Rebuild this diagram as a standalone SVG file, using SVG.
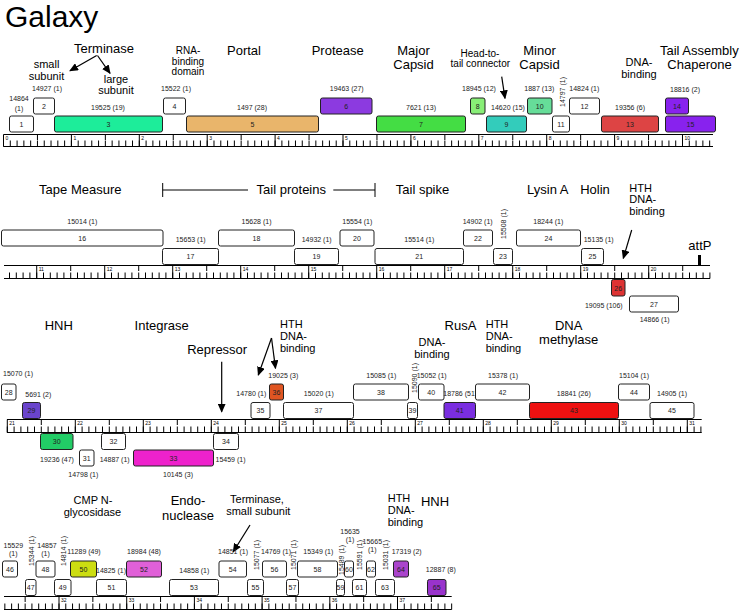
<svg xmlns="http://www.w3.org/2000/svg" width="741" height="612" viewBox="0 0 741 612">
<defs>
<style>
text{font-family:"Liberation Sans",Arial,sans-serif;fill:#000}
.t13{font-size:13px}
.t11{font-size:11px}
.t10{font-size:10px}
.c{text-anchor:middle}
.n{font-size:7px;fill:#222;text-anchor:middle}
.s{text-anchor:start}
.kb{font-size:5px;fill:#3a9a3a}
.b{stroke:#222;stroke-width:1;fill:#fff}
.rl{stroke:#000;stroke-width:1;fill:none}
.tk{stroke:#000;fill:none}
.ar{stroke:#000;stroke-width:1.2;fill:none;marker-end:url(#ah)}
</style>
<marker id="ah" markerUnits="userSpaceOnUse" markerWidth="9" markerHeight="8" refX="8" refY="4" orient="auto">
<path d="M0,0 L9,4 L0,8 z" fill="#000"/>
</marker>
</defs>
<rect width="741" height="612" fill="#fff"/>
<text x="5" y="27" style="font-size:30px">Galaxy</text>

<!-- rulers -->
<g id="rulers">
<path class="rl" d="M3.5 134.5H713M3.5 146.5H713"/>
<line class="tk" x1="3" y1="140.5" x2="714" y2="140.5" stroke-width="12" stroke-dasharray="1 66.9"/>
<line class="tk" x1="36.95" y1="137.25" x2="714" y2="137.25" stroke-width="5.5" stroke-dasharray="1 66.9"/>
<line class="tk" x1="3" y1="143.5" x2="714" y2="143.5" stroke-width="6" stroke-dasharray="1 5.79"/>
<g class="kb"><text x="5.5" y="139.5">0</text><text x="73.4" y="139.5">1</text><text x="141.3" y="139.5">2</text><text x="209.2" y="139.5">3</text><text x="277.1" y="139.5">4</text><text x="345" y="139.5">5</text><text x="412.9" y="139.5">6</text><text x="480.8" y="139.5">7</text><text x="548.7" y="139.5">8</text><text x="616.6" y="139.5">9</text><text x="684.5" y="139.5">10</text></g>

<path class="rl" d="M4 265.5H710M4 278.5H710"/>
<line class="tk" x1="36.2" y1="272" x2="711" y2="272" stroke-width="13" stroke-dasharray="1 67"/>
<line class="tk" x1="70.2" y1="268.25" x2="711" y2="268.25" stroke-width="5.5" stroke-dasharray="1 67"/>
<line class="tk" x1="9" y1="275.5" x2="711" y2="275.5" stroke-width="6" stroke-dasharray="1 5.8"/>
<g class="kb"><text x="38.7" y="270.5">11</text><text x="106.7" y="270.5">12</text><text x="174.7" y="270.5">13</text><text x="242.7" y="270.5">14</text><text x="310.7" y="270.5">15</text><text x="378.7" y="270.5">16</text><text x="446.7" y="270.5">17</text><text x="514.7" y="270.5">18</text><text x="582.7" y="270.5">19</text><text x="650.7" y="270.5">20</text></g>

<path class="rl" d="M7 419.5H701.7M7 432.5H701.7"/>
<line class="tk" x1="6.8" y1="426" x2="702.5" y2="426" stroke-width="13" stroke-dasharray="1 67"/>
<line class="tk" x1="40.8" y1="422.25" x2="702.5" y2="422.25" stroke-width="5.5" stroke-dasharray="1 67"/>
<line class="tk" x1="6.8" y1="429.5" x2="702.5" y2="429.5" stroke-width="6" stroke-dasharray="1 5.8"/>
<g class="kb"><text x="9.3" y="424.5">21</text><text x="77.3" y="424.5">22</text><text x="145.3" y="424.5">23</text><text x="213.3" y="424.5">24</text><text x="281.3" y="424.5">25</text><text x="349.3" y="424.5">26</text><text x="417.3" y="424.5">27</text><text x="485.3" y="424.5">28</text><text x="553.3" y="424.5">29</text><text x="621.3" y="424.5">30</text><text x="689.3" y="424.5">31</text></g>

<path class="rl" d="M4 596.5H451.7M4 609.5H451.7"/>
<line class="tk" x1="58.5" y1="603" x2="452.5" y2="603" stroke-width="13" stroke-dasharray="1 66.7"/>
<line class="tk" x1="24.65" y1="599.25" x2="452.5" y2="599.25" stroke-width="5.5" stroke-dasharray="1 66.7"/>
<line class="tk" x1="4.34" y1="606.5" x2="452.5" y2="606.5" stroke-width="6" stroke-dasharray="1 5.77"/>
<g class="kb"><text x="61" y="602">32</text><text x="128.7" y="602">33</text><text x="196.4" y="602">34</text><text x="264.1" y="602">35</text><text x="331.8" y="602">36</text><text x="399.5" y="602">37</text></g>
</g>

<!-- annotations -->
<g id="annotations">
<text class="t13 c" x="104" y="53">Terminase</text>
<text class="t11 c" x="46.5" y="68">small</text>
<text class="t11 c" x="46.5" y="80">subunit</text>
<text class="t11 c" x="116" y="82.5">large</text>
<text class="t11 c" x="116" y="94">subunit</text>
<text class="t10 c" x="188" y="54">RNA-</text>
<text class="t10 c" x="188" y="64.5">binding</text>
<text class="t10 c" x="188" y="75">domain</text>
<text class="t13 c" x="244" y="54.5">Portal</text>
<text class="t13 c" x="337.7" y="55">Protease</text>
<text class="t13 c" x="413.5" y="55">Major</text>
<text class="t13 c" x="413.5" y="68.5">Capsid</text>
<text class="t10 c" x="480" y="56.5">Head-to-</text>
<text class="t10 c" x="480.3" y="66.7">tail connector</text>
<text class="t13 c" x="539.5" y="55">Minor</text>
<text class="t13 c" x="539.5" y="68.5">Capsid</text>
<text class="t11 c" x="639" y="66">DNA-</text>
<text class="t11 c" x="639" y="78.3">binding</text>
<text class="t13 c" x="699.3" y="55">Tail Assembly</text>
<text class="t13 c" x="699.5" y="69">Chaperone</text>

<text class="t13 c" x="80.3" y="194">Tape Measure</text>
<path class="rl" d="M162.7 183V197M162.7 190H248M333.3 190H375M375 183V197"/>
<text class="t13 c" x="291.3" y="194">Tail proteins</text>
<text class="t13 c" x="422.5" y="194">Tail spike</text>
<text class="t13 c" x="547.8" y="194">Lysin A</text>
<text class="t13 c" x="595" y="194">Holin</text>
<text class="t11" x="629.3" y="191.7">HTH</text>
<text class="t11" x="629.3" y="203.3">DNA-</text>
<text class="t11" x="629.3" y="215">binding</text>
<text class="t13" x="688.3" y="250">attP</text>
<rect x="698" y="255" width="3" height="10.5" fill="#000"/>

<text class="t13 c" x="58.8" y="330">HNH</text>
<text class="t13 c" x="161.7" y="330">Integrase</text>
<text class="t13 c" x="217.2" y="354">Repressor</text>
<text class="t11" x="280" y="327.5">HTH</text>
<text class="t11" x="280" y="339.5">DNA-</text>
<text class="t11" x="280" y="351.5">binding</text>
<text class="t11 c" x="432" y="345.7">DNA-</text>
<text class="t11 c" x="432" y="357.7">binding</text>
<text class="t13 c" x="460.5" y="330">RusA</text>
<text class="t11" x="485.7" y="328">HTH</text>
<text class="t11" x="485.7" y="340">DNA-</text>
<text class="t11" x="485.7" y="352">binding</text>
<text class="t13 c" x="568.7" y="330">DNA</text>
<text class="t13 c" x="568.7" y="344.3">methylase</text>

<text class="t11 c" x="93" y="504">CMP N-</text>
<text class="t11 c" x="92.5" y="515.7">glycosidase</text>
<text class="t13 c" x="188" y="505.3">Endo-</text>
<text class="t13 c" x="188" y="519.8">nuclease</text>
<text class="t11 c" x="257" y="503.3">Terminase,</text>
<text class="t11 c" x="258.3" y="515">small subunit</text>
<text class="t11" x="387.7" y="502.3">HTH</text>
<text class="t11" x="387.7" y="513.8">DNA-</text>
<text class="t11" x="387.7" y="525.5">binding</text>
<text class="t13 c" x="435" y="506">HNH</text>
</g>

<!-- connectors -->
<g id="connectors">
<line class="ar" x1="96.7" y1="55.5" x2="70" y2="70.7"/>
<line class="ar" x1="97.5" y1="55.5" x2="110" y2="73.3"/>
<line class="ar" x1="501.7" y1="76.7" x2="505" y2="98.3"/>
<line class="ar" x1="631.7" y1="230" x2="623.3" y2="258.3"/>
<line class="ar" x1="221.7" y1="361.7" x2="221.7" y2="411.7"/>
<line class="ar" x1="271.5" y1="338" x2="258.3" y2="375"/>
<line class="ar" x1="271.5" y1="338" x2="275.5" y2="368.3"/>
<line class="ar" x1="250" y1="525" x2="233.3" y2="551.7"/>
</g>

<!-- row 1 genes -->
<g id="gene1"><rect class="b" x="9.5" y="116" width="24" height="16" rx="2"/><text class="n" x="21.5" y="126.5">1</text><text class="n" x="19" y="101">14864</text><text class="n" x="19" y="110.5">(1)</text></g>
<g id="gene2"><rect class="b" x="33.5" y="98" width="21" height="16" rx="2"/><text class="n" x="44" y="108.5">2</text><text class="n" x="47" y="91">14927 (1)</text></g>
<g id="gene3"><rect class="b" x="54.5" y="116" width="108" height="16" rx="2" style="fill:#1ded9a"/><text class="n" x="108.5" y="126.5">3</text><text class="n" x="108" y="110">19525 (19)</text></g>
<g id="gene4"><rect class="b" x="163.5" y="98" width="22" height="16" rx="2"/><text class="n" x="174.5" y="108.5">4</text><text class="n" x="176" y="91">15522 (1)</text></g>
<g id="gene5"><rect class="b" x="186.5" y="116" width="132" height="16" rx="2" style="fill:#e9b56b"/><text class="n" x="252.5" y="126.5">5</text><text class="n" x="252" y="110">1497 (28)</text></g>
<g id="gene6"><rect class="b" x="320.5" y="98" width="51.5" height="16" rx="2" style="fill:#8c3ae0"/><text class="n" x="346.25" y="108.5">6</text><text class="n" x="346.7" y="91">19463 (27)</text></g>
<g id="gene7"><rect class="b" x="376.5" y="116" width="89" height="16" rx="2" style="fill:#44dd44"/><text class="n" x="421" y="126.5">7</text><text class="n" x="421" y="110">7621 (13)</text></g>
<g id="gene8"><rect class="b" x="470.5" y="98" width="14.5" height="16" rx="2" style="fill:#88ee77"/><text class="n" x="477.75" y="108.5">8</text><text class="n" x="479" y="91">18945 (12)</text></g>
<g id="gene9"><rect class="b" x="486.5" y="116" width="40" height="16" rx="2" style="fill:#33ccbb"/><text class="n" x="506.5" y="126.5">9</text><text class="n" x="508" y="110">14620 (15)</text></g>
<g id="gene10"><rect class="b" x="527.5" y="98" width="24.5" height="16" rx="2" style="fill:#66dd99"/><text class="n" x="539.75" y="108.5">10</text><text class="n" x="539.3" y="91">1887 (13)</text></g>
<g id="gene11"><rect class="b" x="552.5" y="116" width="17" height="16" rx="2"/><text class="n" x="561" y="126.5">11</text><text class="n" transform="translate(564.5,92) rotate(-90)">14797 (1)</text></g>
<g id="gene12"><rect class="b" x="569.5" y="98" width="30" height="16" rx="2"/><text class="n" x="584.5" y="108.5">12</text><text class="n" x="584.3" y="91">14824 (1)</text></g>
<g id="gene13"><rect class="b" x="601.5" y="116" width="57" height="16" rx="2" style="fill:#dd4444"/><text class="n" x="630" y="126.5">13</text><text class="n" x="630" y="110">19356 (6)</text></g>
<g id="gene14"><rect class="b" x="665.5" y="98" width="23" height="16" rx="2" style="fill:#8822ee"/><text class="n" x="677" y="108.5">14</text><text class="n" x="685" y="92">18816 (2)</text></g>
<g id="gene15"><rect class="b" x="665.5" y="116" width="50" height="16" rx="2" style="fill:#8822ee"/><text class="n" x="690.5" y="126.5">15</text></g>

<!-- row 2 genes -->
<g id="gene16"><rect class="b" x="1.5" y="230" width="161.5" height="16" rx="2"/><text class="n" x="82.25" y="240.5">16</text><text class="n" x="82.3" y="223.5">15014 (1)</text></g>
<g id="gene17"><rect class="b" x="162.5" y="248.5" width="56" height="16" rx="2"/><text class="n" x="190.5" y="259">17</text><text class="n" x="190.7" y="242">15653 (1)</text></g>
<g id="gene18"><rect class="b" x="218.5" y="230" width="76" height="16" rx="2"/><text class="n" x="256.5" y="240.5">18</text><text class="n" x="256.5" y="223.5">15628 (1)</text></g>
<g id="gene19"><rect class="b" x="294.5" y="248.5" width="44" height="16" rx="2"/><text class="n" x="316.5" y="259">19</text><text class="n" x="316.7" y="242">14932 (1)</text></g>
<g id="gene20"><rect class="b" x="340" y="230" width="34" height="16" rx="2"/><text class="n" x="357" y="240.5">20</text><text class="n" x="357.3" y="223.5">15554 (1)</text></g>
<g id="gene21"><rect class="b" x="375" y="248.5" width="88.5" height="16" rx="2"/><text class="n" x="419.25" y="259">21</text><text class="n" x="419.3" y="242">15514 (1)</text></g>
<g id="gene22"><rect class="b" x="463.5" y="230" width="29" height="16" rx="2"/><text class="n" x="478" y="240.5">22</text><text class="n" x="477.7" y="223.5">14902 (1)</text></g>
<g id="gene23"><rect class="b" x="493.5" y="248.5" width="19" height="16" rx="2"/><text class="n" x="503" y="259">23</text><text class="n" transform="translate(506,224) rotate(-90)">15508 (1)</text></g>
<g id="gene24"><rect class="b" x="516.5" y="230" width="64" height="16" rx="2"/><text class="n" x="548.5" y="240.5">24</text><text class="n" x="548.3" y="223.5">18244 (1)</text></g>
<g id="gene25"><rect class="b" x="581.5" y="248.5" width="22" height="16" rx="2"/><text class="n" x="592.5" y="259">25</text><text class="n" x="598.7" y="242">15135 (1)</text></g>
<g id="gene26"><rect class="b" x="611.5" y="279.5" width="13.5" height="16.5" rx="2" style="fill:#dd3333"/><text class="n" x="618.25" y="290.5">26</text><text class="n" x="603.8" y="308">19095 (106)</text></g>
<g id="gene27"><rect class="b" x="629.5" y="296" width="49" height="16" rx="2"/><text class="n" x="654" y="306.5">27</text><text class="n" x="654.7" y="322">14866 (1)</text></g>

<!-- row 3 genes -->
<g id="gene28"><rect class="b" x="1.5" y="384" width="14.5" height="16" rx="2"/><text class="n" x="8.75" y="394.5">28</text><text class="n" x="18" y="375.5">15070 (1)</text></g>
<g id="gene29"><rect class="b" x="22.5" y="402.5" width="18" height="16" rx="2" style="fill:#6a44cc"/><text class="n" x="31.5" y="413">29</text><text class="n" x="38.3" y="397">5691 (2)</text></g>
<g id="gene30"><rect class="b" x="40.5" y="433.5" width="32.5" height="16" rx="2" style="fill:#22cc66"/><text class="n" x="56.75" y="444">30</text><text class="n" x="57" y="461.5">19236 (47)</text></g>
<g id="gene31"><rect class="b" x="79.5" y="450" width="14.5" height="16" rx="2"/><text class="n" x="86.75" y="460.5">31</text><text class="n" x="83.3" y="477">14798 (1)</text></g>
<g id="gene32"><rect class="b" x="101.5" y="433.5" width="24" height="16" rx="2"/><text class="n" x="113.5" y="444">32</text><text class="n" x="114.7" y="461.5">14887 (1)</text></g>
<g id="gene33"><rect class="b" x="133.5" y="450" width="80" height="16" rx="2" style="fill:#ee22cc"/><text class="n" x="173.5" y="460.5">33</text><text class="n" x="178" y="477">10145 (3)</text></g>
<g id="gene34"><rect class="b" x="213.5" y="433.5" width="25" height="16" rx="2"/><text class="n" x="226" y="444">34</text><text class="n" x="230.5" y="461.5">15459 (1)</text></g>
<g id="gene35"><rect class="b" x="251" y="402.5" width="19" height="16" rx="2"/><text class="n" x="260.5" y="413">35</text><text class="n" x="251.3" y="396">14780 (1)</text></g>
<g id="gene36"><rect class="b" x="269.5" y="384" width="14" height="16" rx="2" style="fill:#e05522"/><text class="n" x="276.5" y="394.5">36</text><text class="n" x="283.3" y="377.5">19025 (3)</text></g>
<g id="gene37"><rect class="b" x="283.5" y="402.5" width="70" height="16" rx="2"/><text class="n" x="318.5" y="413">37</text><text class="n" x="318.8" y="396">15020 (1)</text></g>
<g id="gene38"><rect class="b" x="353.5" y="384" width="55" height="16" rx="2"/><text class="n" x="381" y="394.5">38</text><text class="n" x="381.3" y="377.5">15085 (1)</text></g>
<g id="gene39"><rect class="b" x="407.5" y="402.5" width="10" height="16" rx="2"/><text class="n" x="412.5" y="413">39</text><text class="n" transform="translate(416.5,378) rotate(-90)">15090 (1)</text></g>
<g id="gene40"><rect class="b" x="418.5" y="384" width="25.5" height="16" rx="2"/><text class="n" x="431.25" y="394.5">40</text><text class="n" x="431.7" y="377.5">15052 (1)</text></g>
<g id="gene41"><text class="n s" x="443.3" y="396">18786 (51)</text><rect class="b" x="444" y="402.5" width="31.5" height="16" rx="2" style="fill:#7a2ee0"/><text class="n" x="459.75" y="413">41</text></g>
<g id="gene42"><rect class="b" x="475.5" y="384" width="54" height="16" rx="2"/><text class="n" x="502.5" y="394.5">42</text><text class="n" x="503" y="377.5">15378 (1)</text></g>
<g id="gene43"><rect class="b" x="529.5" y="402.5" width="89" height="16" rx="2" style="fill:#ee1111"/><text class="n" x="574" y="413">43</text><text class="n" x="573.8" y="396">18841 (26)</text></g>
<g id="gene44"><rect class="b" x="618.5" y="384" width="31" height="16" rx="2"/><text class="n" x="634" y="394.5">44</text><text class="n" x="634" y="377.5">15104 (1)</text></g>
<g id="gene45"><rect class="b" x="650" y="402.5" width="44" height="16" rx="2"/><text class="n" x="672" y="413">45</text><text class="n" x="672" y="396">14905 (1)</text></g>

<!-- row 4 genes -->
<g id="gene46"><rect class="b" x="2.5" y="561" width="15" height="16" rx="2"/><text class="n" x="10" y="571.5">46</text><text class="n" x="13.3" y="547.5">15529</text><text class="n" x="13.3" y="556">(1)</text></g>
<g id="gene47"><rect class="b" x="25.5" y="579.5" width="10.5" height="16" rx="2"/><text class="n" x="30.75" y="590">47</text><text class="n" transform="translate(34,551) rotate(-90)">15344 (1)</text></g>
<g id="gene48"><rect class="b" x="36" y="561" width="19" height="16" rx="2"/><text class="n" x="45.5" y="571.5">48</text><text class="n" x="47" y="547.5">14857</text><text class="n" x="45.5" y="556">(1)</text></g>
<g id="gene49"><rect class="b" x="54.5" y="579.5" width="16.5" height="16" rx="2"/><text class="n" x="62.75" y="590">49</text><text class="n" transform="translate(66,551) rotate(-90)">14814 (1)</text></g>
<g id="gene51"><text class="n" x="111" y="572.5">14825 (1)</text><rect class="b" x="96.5" y="579.5" width="30" height="16" rx="2"/><text class="n" x="111.5" y="590">51</text></g>
<g id="gene50"><rect class="b" x="70.5" y="561" width="26" height="16" rx="2" style="fill:#ccdd11"/><text class="n" x="83.5" y="571.5">50</text><text class="n" x="84" y="553.5">11289 (49)</text></g>
<g id="gene52"><rect class="b" x="126.5" y="561" width="35" height="16" rx="2" style="fill:#e060d8"/><text class="n" x="144" y="571.5">52</text><text class="n" x="144" y="553.5">18984 (48)</text></g>
<g id="gene53"><rect class="b" x="169.5" y="579.5" width="49" height="16" rx="2"/><text class="n" x="194" y="590">53</text><text class="n" x="194.3" y="572.5">14858 (1)</text></g>
<g id="gene54"><rect class="b" x="219" y="561" width="27.5" height="16" rx="2"/><text class="n" x="232.75" y="571.5">54</text><text class="n" x="233" y="553.5">14851 (1)</text></g>
<g id="gene55"><rect class="b" x="247.5" y="579.5" width="16" height="16" rx="2"/><text class="n" x="255.5" y="590">55</text><text class="n" transform="translate(259,555) rotate(-90)">15077 (1)</text></g>
<g id="gene56"><rect class="b" x="262.5" y="561" width="24" height="16" rx="2"/><text class="n" x="274.5" y="571.5">56</text><text class="n" x="276" y="554">14769 (1)</text></g>
<g id="gene57"><rect class="b" x="286.5" y="579.5" width="12" height="16" rx="2"/><text class="n" x="292.5" y="590">57</text><text class="n" transform="translate(295.5,555) rotate(-90)">15071 (1)</text></g>
<g id="gene58"><rect class="b" x="297.5" y="561" width="40" height="16" rx="2"/><text class="n" x="317.5" y="571.5">58</text><text class="n" x="318.3" y="554">15349 (1)</text></g>
<g id="gene59"><rect class="b" x="336.5" y="579.5" width="8" height="16" rx="2"/><text class="n" x="340.5" y="590">59</text><text class="n" transform="translate(343.5,560) rotate(-90)">15489 (1)</text></g>
<g id="gene60"><rect class="b" x="344.5" y="561" width="9" height="16" rx="2"/><text class="n" x="349" y="571.5">60</text><text class="n" x="350" y="534">15635</text><text class="n" x="350" y="542">(1)</text></g>
<g id="gene61"><rect class="b" x="352.5" y="579.5" width="14" height="16" rx="2"/><text class="n" x="359.5" y="590">61</text><text class="n" transform="translate(362,555) rotate(-90)">15591 (1)</text></g>
<g id="gene62"><rect class="b" x="366.5" y="561" width="9" height="16" rx="2"/><text class="n" x="371" y="571.5">62</text><text class="n" x="372.3" y="544">15665</text><text class="n" x="372.3" y="552.3">(1)</text></g>
<g id="gene63"><rect class="b" x="375.5" y="579.5" width="19" height="16" rx="2"/><text class="n" x="385" y="590">63</text><text class="n" transform="translate(388,555) rotate(-90)">15031 (1)</text></g>
<g id="gene64"><rect class="b" x="393.5" y="561" width="15" height="16" rx="2" style="fill:#aa44cc"/><text class="n" x="401" y="571.5">64</text><text class="n" x="406.7" y="554">17319 (2)</text></g>
<g id="gene65"><rect class="b" x="427.5" y="579.5" width="18.5" height="16" rx="2" style="fill:#9933cc"/><text class="n" x="436.75" y="590">65</text><text class="n" x="440.8" y="572">12887 (8)</text></g>
</svg>
